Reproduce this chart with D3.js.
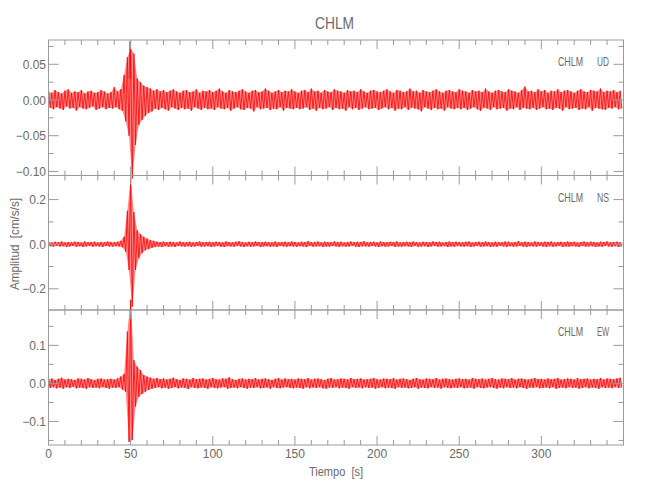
<!DOCTYPE html>
<html><head><meta charset="utf-8">
<script src="https://cdn.jsdelivr.net/npm/d3@7"></script>
<style>
body{margin:0;background:#fff}
text{font-family:"Liberation Sans",Arial,sans-serif;fill:#6a6a6a}
</style>
</head><body><svg id="c" width="650" height="500"></svg>
<script>
// ---------------- data ----------------
const station = "CHLM";
const components = ["UD", "NS", "EW"];
const binSeconds = 2;            // each hi/lo pair covers 2 s of record
const timeMajor = [0, 50, 100, 150, 200, 250, 300];
const timeMinorStep = 10;
const timeMax = 350;

// envelope extremes per 2-s bin (cm/s/s)
const udHi = [.012,.010,.014,.011,.009,.013,.015,.010,.012,.011,.014,.009,.012,.013,.010,.011,.014,.012,.009,.011,.018,.012,.015,.035,.060,
.072,.065,.030,.025,.020,.018,.016,.013,.015,.012,.014,.011,.013,.015,.012,.010,.013,.014,.011,.012,.015,.010,.013,.012,.014,
.011,.013,.016,.012,.010,.014,.012,.011,.013,.015,.012,.010,.013,.014,.011,.012,.016,.013,.010,.012,.014,.011,.013,.012,.015,
.012,.010,.013,.014,.011,.016,.012,.013,.010,.014,.012,.011,.015,.013,.012,.010,.014,.012,.013,.011,.015,.012,.010,.013,.014,
.012,.011,.013,.015,.012,.010,.014,.013,.011,.012,.016,.012,.013,.010,.014,.012,.011,.013,.015,.012,.010,.013,.014,.012,.011,
.015,.013,.012,.010,.014,.012,.013,.011,.016,.012,.010,.013,.014,.012,.011,.015,.013,.012,.010,.014,.019,.012,.013,.011,.015,
.012,.014,.010,.013,.012,.015,.011,.013,.014,.012,.010,.013,.015,.012,.011,.014,.013,.012,.016,.011,.013,.012,.014,.011,.013];
const udLo = [-.011,-.013,-.010,-.012,-.014,-.009,-.012,-.011,-.015,-.010,-.012,-.013,-.011,-.009,-.014,-.012,-.010,-.013,-.011,-.012,-.010,-.013,-.015,-.030,-.050,
-.110,-.063,-.035,-.028,-.022,-.018,-.016,-.012,-.014,-.011,-.013,-.015,-.010,-.012,-.014,-.011,-.013,-.012,-.015,-.010,-.012,-.014,-.011,-.013,-.012,
-.014,-.010,-.012,-.013,-.011,-.015,-.012,-.010,-.013,-.014,-.011,-.012,-.016,-.010,-.013,-.012,-.011,-.014,-.012,-.013,-.010,-.015,-.011,-.012,-.013,
-.011,-.013,-.012,-.010,-.014,-.012,-.015,-.011,-.013,-.012,-.010,-.014,-.011,-.013,-.012,-.015,-.010,-.013,-.011,-.014,-.012,-.010,-.013,-.012,-.011,
-.014,-.012,-.010,-.013,-.011,-.015,-.012,-.013,-.010,-.014,-.011,-.012,-.013,-.016,-.010,-.012,-.014,-.011,-.013,-.012,-.015,-.010,-.012,-.013,-.011,
-.013,-.011,-.014,-.012,-.010,-.013,-.015,-.011,-.012,-.014,-.010,-.013,-.012,-.011,-.015,-.012,-.013,-.010,-.014,-.011,-.012,-.013,-.011,-.014,-.012,
-.010,-.013,-.012,-.014,-.011,-.012,-.015,-.010,-.013,-.012,-.011,-.014,-.012,-.013,-.010,-.015,-.011,-.012,-.013,-.014,-.011,-.012,-.010,-.013,-.012];

const nsHi = [.010,.008,.011,.009,.012,.008,.010,.009,.011,.010,.008,.012,.009,.010,.011,.008,.010,.009,.012,.010,.009,.011,.015,.033,.150,
.295,.144,.062,.045,.033,.025,.018,.015,.011,.010,.012,.009,.011,.010,.008,.012,.009,.010,.011,.008,.010,.012,.009,.010,.011,
.009,.011,.010,.008,.012,.010,.009,.011,.013,.010,.008,.011,.009,.012,.010,.009,.011,.010,.008,.012,.009,.010,.011,.009,.012,
.010,.008,.011,.010,.013,.009,.010,.012,.008,.011,.010,.009,.012,.010,.011,.008,.010,.012,.009,.011,.010,.013,.009,.010,.011,
.008,.012,.010,.009,.011,.010,.012,.008,.010,.011,.009,.012,.010,.008,.011,.010,.009,.012,.010,.011,.008,.010,.012,.009,.011,
.010,.009,.011,.012,.008,.010,.011,.009,.012,.010,.008,.011,.010,.009,.012,.011,.008,.010,.013,.009,.011,.010,.008,.012,.010,
.009,.011,.010,.012,.008,.010,.011,.009,.012,.010,.011,.008,.010,.012,.009,.011,.010,.008,.011,.010,.012,.009,.010,.011,.009];
const nsLo = [-.009,-.011,-.008,-.010,-.009,-.012,-.010,-.008,-.011,-.009,-.012,-.010,-.008,-.011,-.009,-.010,-.012,-.008,-.010,-.011,-.009,-.010,-.014,-.034,-.116,
-.280,-.116,-.063,-.040,-.027,-.022,-.016,-.013,-.010,-.012,-.009,-.011,-.010,-.012,-.008,-.010,-.011,-.009,-.012,-.010,-.008,-.011,-.010,-.009,-.012,
-.010,-.008,-.011,-.012,-.009,-.010,-.011,-.008,-.010,-.012,-.009,-.011,-.010,-.008,-.012,-.010,-.009,-.011,-.010,-.012,-.008,-.010,-.011,-.009,-.010,
-.011,-.009,-.010,-.012,-.008,-.011,-.010,-.009,-.012,-.010,-.011,-.008,-.010,-.012,-.009,-.011,-.010,-.008,-.011,-.012,-.009,-.010,-.011,-.008,-.010,
-.012,-.009,-.011,-.010,-.008,-.012,-.010,-.011,-.009,-.010,-.012,-.008,-.011,-.010,-.009,-.012,-.010,-.008,-.011,-.010,-.009,-.012,-.010,-.011,-.008,
-.010,-.011,-.009,-.012,-.010,-.008,-.011,-.010,-.009,-.012,-.010,-.011,-.008,-.010,-.012,-.009,-.011,-.010,-.008,-.011,-.012,-.009,-.010,-.011,-.008,
-.010,-.012,-.009,-.011,-.010,-.008,-.012,-.010,-.011,-.009,-.010,-.012,-.008,-.011,-.010,-.009,-.012,-.010,-.011,-.008,-.010,-.011,-.009,-.012,-.010];

const ewHi = [.011,.013,.009,.012,.015,.010,.012,.011,.009,.013,.012,.010,.014,.011,.009,.012,.013,.010,.011,.012,.010,.013,.018,.025,.136,
.220,.061,.044,.035,.022,.018,.015,.012,.014,.011,.013,.010,.012,.015,.011,.009,.013,.012,.010,.014,.011,.012,.013,.010,.012,
.014,.011,.010,.013,.012,.016,.011,.009,.012,.013,.010,.012,.011,.014,.010,.012,.013,.011,.009,.012,.014,.010,.013,.011,.012,
.010,.013,.012,.011,.014,.010,.012,.013,.011,.009,.012,.014,.010,.011,.013,.012,.010,.014,.011,.012,.013,.010,.011,.012,.014,
.011,.010,.013,.012,.011,.014,.010,.012,.013,.011,.009,.012,.014,.011,.010,.013,.012,.011,.014,.010,.012,.013,.011,.010,.012,
.013,.011,.012,.010,.014,.012,.011,.013,.010,.012,.014,.011,.010,.013,.012,.011,.014,.010,.012,.013,.011,.010,.012,.014,.011,
.012,.010,.013,.011,.012,.014,.010,.011,.013,.012,.010,.014,.011,.012,.013,.010,.012,.011,.014,.010,.013,.012,.011,.013,.015];
const ewLo = [-.012,-.010,-.013,-.011,-.014,-.010,-.012,-.009,-.013,-.011,-.012,-.014,-.010,-.012,-.011,-.013,-.010,-.012,-.014,-.011,-.012,-.010,-.016,-.022,-.154,
-.149,-.061,-.035,-.028,-.022,-.017,-.014,-.012,-.010,-.013,-.011,-.014,-.012,-.010,-.013,-.011,-.012,-.015,-.010,-.012,-.013,-.011,-.012,-.014,-.010,
-.012,-.013,-.011,-.010,-.014,-.012,-.011,-.013,-.010,-.012,-.014,-.011,-.012,-.010,-.013,-.012,-.011,-.014,-.010,-.012,-.013,-.011,-.010,-.012,-.013,
-.011,-.012,-.014,-.010,-.013,-.011,-.012,-.010,-.013,-.014,-.011,-.012,-.010,-.013,-.011,-.012,-.014,-.010,-.012,-.011,-.013,-.010,-.012,-.011,-.014,
-.012,-.010,-.013,-.011,-.012,-.014,-.010,-.012,-.011,-.013,-.012,-.010,-.014,-.011,-.012,-.013,-.010,-.012,-.011,-.014,-.010,-.012,-.013,-.011,-.012,
-.010,-.013,-.012,-.011,-.014,-.010,-.012,-.013,-.011,-.010,-.012,-.014,-.011,-.013,-.010,-.012,-.011,-.013,-.010,-.012,-.014,-.011,-.012,-.010,-.013,
-.012,-.011,-.013,-.010,-.014,-.012,-.011,-.013,-.010,-.012,-.011,-.014,-.012,-.010,-.013,-.011,-.012,-.014,-.010,-.012,-.011,-.013,-.010,-.012,-.011];

// unfiltered (black) trace peak that shows above the red one in UD
const udRawPeakTime = 49.6;
const udRawPeakValue = 0.082;

const yDomains = [[-0.1057, 0.084], [-0.295, 0.308], [-0.162, 0.193]];
const yMajor = [[-0.10, -0.05, 0.00, 0.05], [-0.2, 0.0, 0.2], [-0.1, 0.0, 0.1]];
const yMinor = [[-0.075, -0.025, 0.025, 0.075], [-0.1, 0.1], [-0.15, -0.05, 0.05, 0.15]];
const yDecimals = [2, 1, 1];
const hiSeries = [udHi, nsHi, ewHi];
const loSeries = [udLo, nsLo, ewLo];

// ---------------- layout ----------------
const svg = d3.select("#c");
const L = 48.5, R = 623.5;
const panelTops = [40, 175.5, 310];
const panelBots = [175.5, 310, 445];
const axisColor = "#9a9a9a";

const x = d3.scaleLinear().domain([0, timeMax]).range([L, R]);
const fmtNum = (v, d) => (v < 0 ? "\u2212" : "") + Math.abs(v).toFixed(d);

function label(sel, txt, len) {
  return sel.append("text").attr("textLength", len).attr("lengthAdjust", "spacingAndGlyphs").text(txt);
}

label(svg, station, 39).attr("x", 315).attr("y", 29).style("font-size", "17px");

components.forEach((comp, p) => {
  const top = panelTops[p], bot = panelBots[p];
  const y = d3.scaleLinear().domain(yDomains[p]).range([bot, top]);
  const g = svg.append("g");

  // traces: zig-zag between bin maxima and minima, plus the band they span
  const pts = [];
  hiSeries[p].forEach((h, i) => {
    pts.push([i * binSeconds, h]);
    pts.push([i * binSeconds + binSeconds / 2, loSeries[p][i]]);
  });
  const hiPts = hiSeries[p].map((h, i) => [i * binSeconds, h]);
  const loPts = loSeries[p].map((l, i) => [i * binSeconds + binSeconds / 2, l]);
  const line = d3.line().x(d => x(d[0])).y(d => y(d[1]));
  const band = hiPts.concat(loPts.slice().reverse());

  if (p === 0) {
    g.append("path").attr("d", line([[udRawPeakTime - 0.6, 0.03], [udRawPeakTime, udRawPeakValue], [udRawPeakTime + 0.6, 0.03]]))
      .attr("fill", "none").attr("stroke", "#777").attr("stroke-width", 1);
  }
  g.append("path").attr("d", line(band) + "Z").attr("fill", "#ff0000").attr("fill-opacity", 0.45)
    .attr("stroke", "none");
  g.append("path").attr("d", line(pts)).attr("fill", "none")
    .attr("stroke", "#ff0000").attr("stroke-width", 0.8);

  // frame
  g.append("rect").attr("x", L).attr("y", top).attr("width", R - L).attr("height", bot - top)
    .attr("fill", "none").attr("stroke", axisColor).attr("stroke-width", 1);

  // x ticks (top & bottom, inward)
  const xMinor = d3.range(0, timeMax + 0.001, timeMinorStep).filter(t => !timeMajor.includes(t));
  const xTick = (t, len) => {
    g.append("line").attr("x1", x(t)).attr("x2", x(t)).attr("y1", bot).attr("y2", bot - len).attr("stroke", axisColor);
    g.append("line").attr("x1", x(t)).attr("x2", x(t)).attr("y1", top).attr("y2", top + len).attr("stroke", axisColor);
  };
  timeMajor.forEach(t => xTick(t, 9));
  xMinor.forEach(t => xTick(t, 5));

  // y ticks (left & right, inward)
  const yTick = (v, len) => {
    g.append("line").attr("x1", L).attr("x2", L + len).attr("y1", y(v)).attr("y2", y(v)).attr("stroke", axisColor);
    g.append("line").attr("x1", R).attr("x2", R - len).attr("y1", y(v)).attr("y2", y(v)).attr("stroke", axisColor);
  };
  yMajor[p].forEach(v => yTick(v, 10));
  yMinor[p].forEach(v => yTick(v, 5));
  yMajor[p].forEach(v => {
    g.append("text").attr("x", 46).attr("y", y(v) + 4.5).attr("text-anchor", "end")
      .style("font-size", "12px").text(fmtNum(v, yDecimals[p]));
  });

  // panel label
  label(g, station, 25).attr("x", 558).attr("y", top + 26).style("font-size", "13px");
  label(g, comp, 12).attr("x", 597).attr("y", top + 26).style("font-size", "13px");

  if (p === components.length - 1) {
    timeMajor.forEach(t => {
      g.append("text").attr("x", x(t)).attr("y", 458).attr("text-anchor", "middle")
        .style("font-size", "12px").text(t);
    });
  }
});

label(svg, "Amplitud  [cm/s/s]", 92).attr("transform", "translate(19,290) rotate(-90)")
  .style("font-size", "12px").style("white-space", "pre");
label(svg, "Tiempo  [s]", 54).attr("x", 309).attr("y", 476)
  .style("font-size", "12px").style("white-space", "pre");
</script>
</body></html>
